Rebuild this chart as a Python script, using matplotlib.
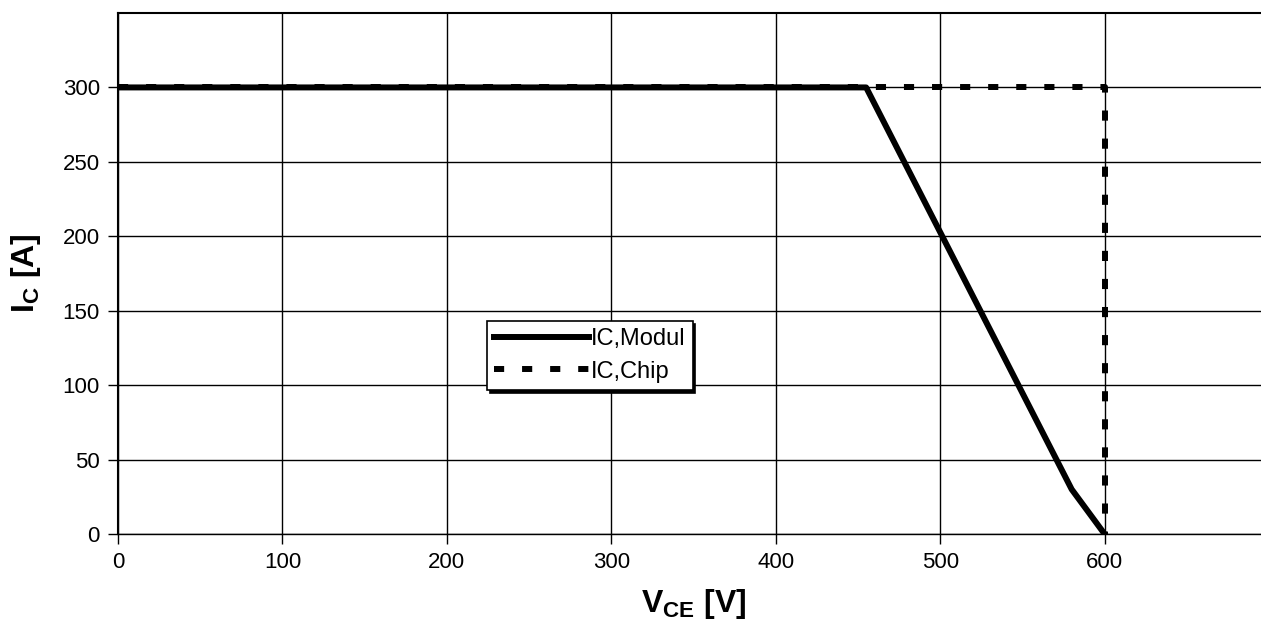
import matplotlib
matplotlib.use("Agg")
import matplotlib.pyplot as plt

# data
vce_modul = [0, 455, 580, 600]
ic_modul = [300, 300, 30, 0]
vce_chip = [0, 600, 600]
ic_chip = [300, 300, 0]

xticks = [0, 100, 200, 300, 400, 500, 600]
yticks = [0, 50, 100, 150, 200, 250, 300]

plt.rcParams['font.family'] = ['Liberation Sans', 'DejaVu Sans']

fig = plt.figure(figsize=(12.61, 6.28), dpi=100)
ax = fig.add_axes([118 / 1261, 1 - 534 / 628, (1269 - 118) / 1261, (534 - 13) / 628])

ax.plot(vce_chip, ic_chip, color='black', lw=4.3, ls=(0, (1.7, 3.0)), label='IC,Chip', zorder=3)
ax.plot(vce_modul, ic_modul, color='black', lw=4.3, label='IC,Modul', zorder=4)

ax.set_xlim(0, 700)
ax.set_ylim(0, 350)
ax.set_xticks(xticks)
ax.set_yticks(yticks)
ax.grid(True, color='black', lw=1)
ax.set_axisbelow(True)
ax.spines['right'].set_visible(False)
ax.spines['bottom'].set_linewidth(1)
ax.spines['left'].set_linewidth(1.5)
ax.spines['top'].set_linewidth(1.5)
ax.tick_params(direction='out', length=7, width=1, labelsize=16, pad=6)

ax.set_xlabel(r'V$_\mathregular{CE}$ [V]', fontsize=23, fontweight='bold', labelpad=10)
ax.set_ylabel(r'I$_\mathregular{C}$ [A]', fontsize=23, fontweight='bold', labelpad=14)

handles, labels = ax.get_legend_handles_labels()
leg = ax.legend(handles[::-1], labels[::-1], loc='upper left',
                bbox_to_anchor=(487 / 1261, 1 - 321 / 628), bbox_transform=fig.transFigure,
                fancybox=False, shadow={'color': 'black', 'alpha': 1}, edgecolor='black',
                framealpha=1, fontsize=17, handlelength=4.0, handletextpad=0.1,
                borderpad=0.3, labelspacing=0.45, borderaxespad=0)
leg.get_frame().set_linewidth(1.2)

fig.savefig('out.png', dpi=100)
